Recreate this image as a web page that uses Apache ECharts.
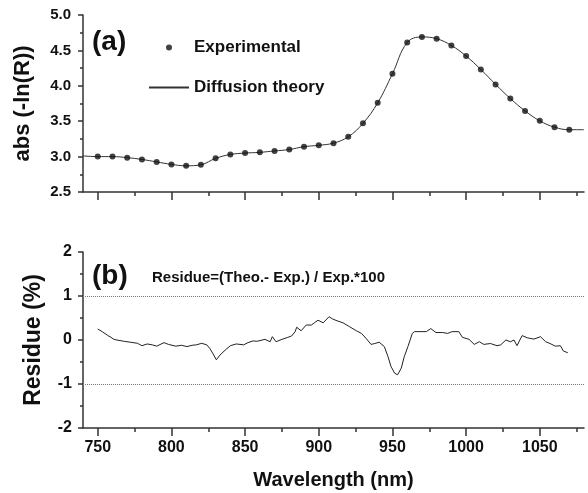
<!DOCTYPE html>
<html>
<head>
<meta charset="utf-8">
<script src="https://cdn.jsdelivr.net/npm/echarts@6/dist/echarts.min.js"></script>
<style>html,body{margin:0;padding:0;background:#fff}#c{width:588px;height:493px}</style>
</head>
<body>
<div id="c"></div>
<script>
// ---- data ----
const expWavelength = [750,760,770,780,790,800,810,820,830,840,850,860,870,880,890,900,910,920,930,940,950,960,970,980,990,1000,1010,1020,1030,1040,1050,1060,1070];
const expAbs = [3.00,3.00,2.985,2.96,2.925,2.89,2.87,2.885,2.975,3.03,3.05,3.06,3.08,3.10,3.14,3.16,3.19,3.28,3.47,3.76,4.17,4.61,4.69,4.665,4.57,4.42,4.23,4.02,3.82,3.645,3.505,3.415,3.38];
const theoWavelength = [740,750,760,770,780,790,800,810,820,830,840,850,860,870,880,890,900,910,920,930,940,950,960,970,980,990,1000,1010,1020,1030,1040,1050,1060,1070,1080];
const theoAbs = [3.01,3.00,3.00,2.985,2.96,2.925,2.89,2.87,2.885,2.975,3.03,3.05,3.06,3.08,3.10,3.14,3.16,3.19,3.28,3.47,3.76,4.17,4.61,4.69,4.665,4.57,4.42,4.23,4.02,3.82,3.645,3.505,3.415,3.38,3.38];
const residueWavelength = [750,753,756.5,759,761,763,768,772,777,780,783.5,787,790,795,798,803,807,810.5,814,817,820.5,824,826,828,830.5,833,836.5,840,844,849,852,855.5,858,863.5,867,868.5,871,875,879,881.5,884,885,888,891.5,895,897,899.5,903,907,909.5,913,916.5,921,925.5,929,932,935.5,938,941,944.5,947,949,951.5,953.5,956,958,960.5,963.5,965,968,973,976,979.5,984,987.5,990.5,995,997.5,1002,1005.5,1009,1012,1016.5,1021,1023.5,1027,1030,1032.5,1034.5,1038,1041.5,1046,1050.5,1054,1057,1060.5,1064,1066,1069];
const residueValue = [0.25,0.19,0.11,0.06,0.015,0.0,-0.03,-0.05,-0.075,-0.13,-0.09,-0.11,-0.14,-0.06,-0.10,-0.14,-0.12,-0.15,-0.12,-0.11,-0.075,-0.11,-0.19,-0.30,-0.45,-0.34,-0.23,-0.13,-0.09,-0.11,-0.06,-0.02,-0.03,0.015,-0.04,0.075,-0.04,0.015,0.06,0.09,0.19,0.29,0.21,0.34,0.34,0.39,0.45,0.39,0.53,0.475,0.43,0.39,0.30,0.21,0.15,0.04,-0.10,-0.08,-0.05,-0.15,-0.38,-0.60,-0.755,-0.79,-0.64,-0.38,-0.15,0.15,0.19,0.19,0.19,0.26,0.17,0.17,0.15,0.19,0.19,0.06,0.015,-0.10,-0.04,-0.10,-0.08,-0.13,-0.11,0.0,-0.04,0.0,-0.13,0.10,0.05,0.02,0.075,-0.04,-0.08,-0.14,-0.13,-0.25,-0.29];
const xMajorTicks = [750,800,850,900,950,1000,1050];
const xMinorTicks = [775,825,875,925,975,1025,1075];
const residueGuides = [1,-1];
const legendNames = ['Experimental','Diffusion theory'];

const FONT = "'Liberation Sans', Arial, sans-serif";
const AX = '#333';
const zip = (a,b) => a.map((v,i)=>[v,b[i]]);

function mainX(gridIndex, showLabels){
  return {
    type:'value', gridIndex, min:740, max:1080, position:'bottom',
    axisLine:{show:true, onZero:false, lineStyle:{color:AX, width:1.5}},
    axisTick:{show:true, length:8, inside:false, customValues:xMajorTicks, lineStyle:{color:AX, width:1.5}},
    axisLabel:{show:showLabels, customValues:xMajorTicks, margin:12, formatter:v=>String(v),
      fontFamily:FONT, fontWeight:'bold', fontSize:16, color:'#111'},
    splitLine:{show:false}
  };
}
function minorX(gridIndex){
  return {
    type:'value', gridIndex, min:740, max:1080, position:'bottom',
    axisLine:{show:false, onZero:false},
    axisTick:{show:true, length:4, customValues:xMinorTicks, lineStyle:{color:AX, width:1.5}},
    axisLabel:{show:false},
    splitLine:{show:false}
  };
}

const chart = echarts.init(document.getElementById('c'), null, {renderer:'canvas'});
chart.setOption({
  animation:false,
  backgroundColor:'#fff',
  grid:[
    {left:83, top:15, width:501, height:177},
    {left:83, top:252, width:501, height:176}
  ],
  title:[
    {text:'(a)', left:92, top:28, padding:0, textStyle:{fontFamily:FONT, fontWeight:'bold', fontSize:28, color:'#111'}},
    {text:'(b)', left:92, top:262, padding:0, textStyle:{fontFamily:FONT, fontWeight:'bold', fontSize:28, color:'#111'}},
    {text:'Residue=(Theo.- Exp.) / Exp.*100', left:152, top:270, padding:0, textStyle:{fontFamily:FONT, fontWeight:'bold', fontSize:15, color:'#111'}}
  ],
  legend:{
    data:[
      {name:legendNames[0], icon:'circle'},
      {name:legendNames[1], itemStyle:{opacity:0}}
    ],
    orient:'vertical', left:148, top:39, padding:0,
    itemWidth:40, itemHeight:6, itemGap:23, selectedMode:false,
    textStyle:{fontFamily:FONT, fontWeight:'bold', fontSize:17, color:'#111'}
  },
  xAxis:[ mainX(0,false), minorX(0), Object.assign(mainX(1,true), {
      name:'Wavelength (nm)', nameLocation:'middle', nameGap:42,
      nameTextStyle:{fontFamily:FONT, fontWeight:'bold', fontSize:20, color:'#111'}
    }), minorX(1) ],
  yAxis:[
    {type:'value', gridIndex:0, min:2.5, max:5.0, interval:0.5,
     name:'abs (-ln(R))', nameLocation:'middle', nameGap:49,
     nameTextStyle:{fontFamily:FONT, fontWeight:'bold', fontSize:22, color:'#111'},
     axisLine:{show:true, lineStyle:{color:AX, width:1.5}},
     axisTick:{show:true, length:5, lineStyle:{color:AX, width:1.5}},
     minorTick:{show:true, splitNumber:2, length:3, lineStyle:{color:AX, width:1.5}},
     axisLabel:{margin:12, formatter:v=>v.toFixed(1), fontFamily:FONT, fontWeight:'bold', fontSize:15, color:'#111'},
     splitLine:{show:false}},
    {type:'value', gridIndex:1, min:-2, max:2, interval:1,
     name:'Residue (%)', nameLocation:'middle', nameGap:38,
     nameTextStyle:{fontFamily:FONT, fontWeight:'bold', fontSize:23, color:'#111'},
     axisLine:{show:true, lineStyle:{color:AX, width:1.5}},
     axisTick:{show:true, length:5, lineStyle:{color:AX, width:1.5}},
     minorTick:{show:true, splitNumber:2, length:3, lineStyle:{color:AX, width:1.5}},
     axisLabel:{margin:11, fontFamily:FONT, fontWeight:'bold', fontSize:16, color:'#111'},
     splitLine:{show:false}}
  ],
  series:[
    {name:legendNames[1], type:'line', xAxisIndex:0, yAxisIndex:0, data:zip(theoWavelength, theoAbs),
     smooth:0.4, symbol:'none', lineStyle:{color:'#333', width:1}, itemStyle:{color:'#333'}, z:2},
    {name:legendNames[0], type:'scatter', xAxisIndex:0, yAxisIndex:0, data:zip(expWavelength, expAbs),
     symbol:'circle', symbolSize:6, itemStyle:{color:'#111'}, z:3},
    {name:'Residue', type:'line', xAxisIndex:2, yAxisIndex:1, data:zip(residueWavelength, residueValue),
     symbol:'none', lineStyle:{color:'#222', width:1},
     markLine:{silent:true, symbol:['none','none'], label:{show:false},
       lineStyle:{type:'dotted', color:'#777', width:1},
       data:residueGuides.map(v=>({yAxis:v}))}}
  ]
});
</script>
</body>
</html>
